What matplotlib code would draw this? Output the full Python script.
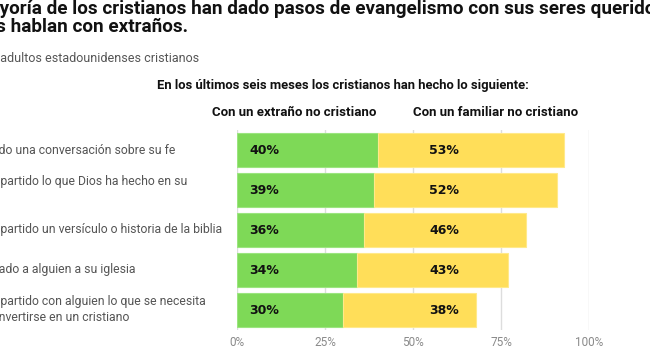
import matplotlib
matplotlib.use("Agg")
import matplotlib.pyplot as plt
from matplotlib import font_manager as fm
from matplotlib import transforms

# ---------------- data ----------------
categories = [
    "Ha tenido una conversación sobre su fe",
    "Ha compartido lo que Dios ha hecho en su\nvida",
    "Ha compartido un versículo o historia de la biblia",
    "Ha invitado a alguien a su iglesia",
    "Ha compartido con alguien lo que se necesita\npara convertirse en un cristiano",
]
hidden_prefixes = ["Ha teni", "Ha com", "Ha com", "Ha invit", "Ha com"]
stranger = [40, 39, 36, 34, 30]
family = [53, 52, 46, 43, 38]
series_names = ["Con un extraño no cristiano", "Con un familiar no cristiano"]
xticks = [0, 25, 50, 75, 100]
xtick_labels = ["0%", "25%", "50%", "75%", "100%"]

title_line1 = "La mayoría de los cristianos han dado pasos de evangelismo con sus seres queridos más de lo que"
title_line2 = "Menos hablan con extraños."
subtitle = "% de adultos estadounidenses cristianos"
header = "En los últimos seis meses los cristianos han hecho lo siguiente:"

# ---------------- style ----------------
W, H = 650, 350
GREEN = "#7ED957"
YELLOW = "#FFDE59"
names = {f.name for f in fm.fontManager.ttflist}
NARROW = "Liberation Sans Narrow" if "Liberation Sans Narrow" in names else "Roboto"
MAIN = "Roboto" if "Roboto" in names else "DejaVu Sans"
label_visible_x = [-1, 0, 0, -1, 0]  # pixel where the visible part of each label starts

fig = plt.figure(figsize=(6.5, 3.5), dpi=100)
fig.patch.set_facecolor("white")

ax = fig.add_axes([237 / W, 1 - 330 / H, 352 / W, 200 / H])
y = list(range(len(categories)))
ax.barh(y, stranger, height=0.85, color=GREEN, edgecolor="#9be57f", linewidth=0.8, zorder=3)
ax.barh(y, family, left=stranger, height=0.85, color=YELLOW, edgecolor="#ffe98a", linewidth=0.8, zorder=3)

for i in y:
    ax.text(3.6, i, f"{stranger[i]}%", ha="left", va="center", fontsize=9,
            fontweight="bold", color="#111111", family="DejaVu Sans", zorder=4)
    ax.text(58.8, i, f"{family[i]}%", ha="center", va="center", fontsize=9,
            fontweight="bold", color="#111111", family="DejaVu Sans", zorder=4)

ax.set_xlim(0, 100)
ax.set_ylim(len(categories) - 0.5, -0.5)
ax.set_xticks(xticks)
ax.set_xticklabels(xtick_labels, fontsize=8.5, color="#8a8a8a", family=MAIN)
ax.set_yticks([])
ax.tick_params(axis="x", length=0, pad=4)
for s in ax.spines.values():
    s.set_visible(False)
ax.grid(axis="x", color="#dddddd", linewidth=1, zorder=0)
ax.set_axisbelow(True)

renderer = fig.canvas.get_renderer()


def text_width(s, **kw):
    t = fig.text(0, 0, s + "x", **kw)
    w1 = t.get_window_extent(renderer).width
    t.remove()
    t = fig.text(0, 0, "x", **kw)
    w2 = t.get_window_extent(renderer).width
    t.remove()
    return w1 - w2


def clipped_text(full, prefix, vis_x_px, yv, transform, **kw):
    w = text_width(prefix, **kw)
    return fig.text((vis_x_px - w) / W, yv, full, transform=transform, ha="left", **kw)


# category labels (cropped on the left like the reference)
blend = transforms.blended_transform_factory(fig.transFigure, ax.transData)
for i, cat in enumerate(categories):
    clipped_text(cat, hidden_prefixes[i], label_visible_x[i], i, blend, va="center",
                 fontsize=8.8, color="#555555", family=NARROW, linespacing=1.3)

# title and subtitle
clipped_text(title_line1, "La ma", 0, 1 - 9 / H, fig.transFigure, va="center",
             fontsize=13.6, fontweight="bold", color="#111111", family=MAIN)
clipped_text(title_line2, "Meno", -4, 1 - 27 / H, fig.transFigure, va="center",
             fontsize=13.6, fontweight="bold", color="#111111", family=MAIN)
clipped_text(subtitle, "% de ", 0, 1 - 59 / H, fig.transFigure, va="center",
             fontsize=9, color="#555555", family=MAIN)

fig.text(343 / W, 1 - 85 / H, header, ha="center", va="center", fontsize=9.4,
         fontweight="bold", color="#111111", family=NARROW)
fig.text(294 / W, 1 - 112 / H, series_names[0], ha="center", va="center", fontsize=9.5,
         fontweight="bold", color="#111111", family=NARROW)
fig.text(496 / W, 1 - 112 / H, series_names[1], ha="center", va="center", fontsize=9.5,
         fontweight="bold", color="#111111", family=NARROW)

fig.savefig("out.png", dpi=100, facecolor="white")
